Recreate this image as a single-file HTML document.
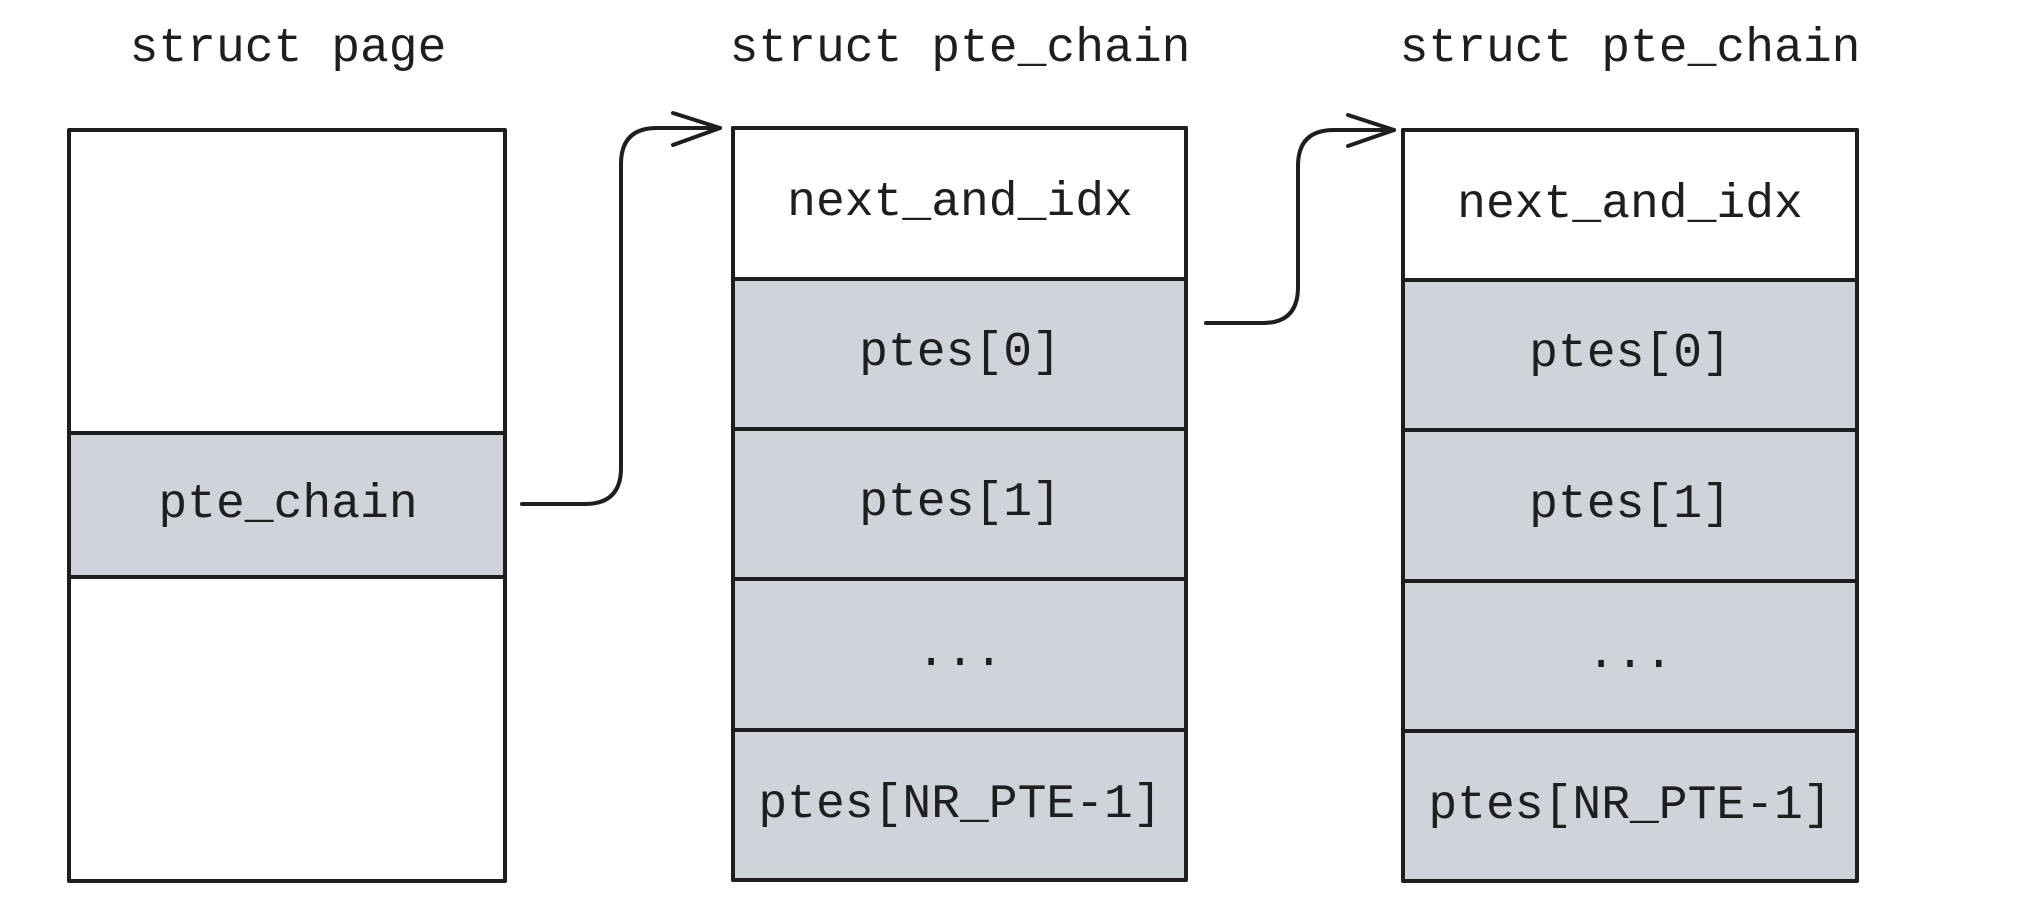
<!DOCTYPE html>
<html><head><style>body{margin:0;background:#fff}</style></head><body>
<svg width="2022" height="917" xmlns="http://www.w3.org/2000/svg" font-family="Liberation Mono, monospace" font-size="48" text-anchor="middle" fill="#1e1e1e">
<g stroke="#1e1e1e" stroke-width="4" fill="none" stroke-linecap="round" stroke-linejoin="round">
<rect x="69" y="130" width="436" height="751" fill="#fff"/>
<rect x="69" y="433" width="436" height="144" fill="#cfd4db"/>
<rect x="733" y="128" width="453" height="752" fill="#cfd4db"/>
<rect x="733" y="128" width="453" height="151" fill="#fff"/>
<line x1="733" y1="429" x2="1186" y2="429"/>
<line x1="733" y1="579" x2="1186" y2="579"/>
<line x1="733" y1="730" x2="1186" y2="730"/>
<rect x="1403" y="130" width="454" height="751" fill="#cfd4db"/>
<rect x="1403" y="130" width="454" height="150" fill="#fff"/>
<line x1="1403" y1="430" x2="1857" y2="430"/>
<line x1="1403" y1="581" x2="1857" y2="581"/>
<line x1="1403" y1="731" x2="1857" y2="731"/>
<path d="M522 504 H585 Q621 504 621 468 V164 Q621 128 657 128 H720"/>
<path d="M673 113 L720 128 L673 145"/>
<path d="M1206 323 H1263 Q1298 323 1298 287 V166 Q1298 130 1334 130 H1394"/>
<path d="M1348 115 L1394 130 L1348 146"/>
</g>
<g stroke="none">
<text x="288" y="61">struct page</text>
<text x="960" y="61">struct pte_chain</text>
<text x="1630" y="61">struct pte_chain</text>
<text x="288" y="517">pte_chain</text>
<text x="960" y="215">next_and_idx</text>
<text x="960" y="365">ptes[0]</text>
<text x="960" y="515">ptes[1]</text>
<text x="960" y="665">...</text>
<text x="960" y="817">ptes[NR_PTE-1]</text>
<text x="1630" y="217">next_and_idx</text>
<text x="1630" y="366">ptes[0]</text>
<text x="1630" y="517">ptes[1]</text>
<text x="1630" y="667">...</text>
<text x="1630" y="818">ptes[NR_PTE-1]</text>
</g>
</svg>
</body></html>
